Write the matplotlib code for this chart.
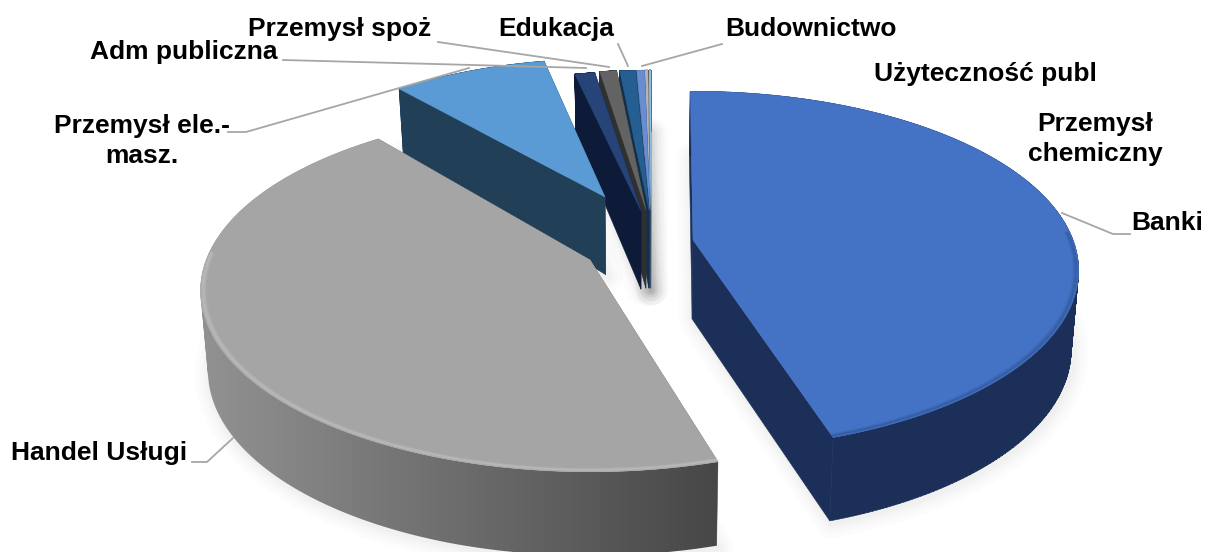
import numpy as np
import matplotlib
matplotlib.use("Agg")
import matplotlib.pyplot as plt
from matplotlib.patches import Polygon, PathPatch
from matplotlib.path import Path
from matplotlib.colors import to_rgb, LinearSegmentedColormap

# ---- data (percent share, clockwise from the top) ----
categories = ["Banki", "Handel Usługi", "Przemysł ele.-masz.", "Adm publiczna", "Przemysł spoż",
              "Edukacja", "Budownictwo", "Użyteczność publ", "Przemysł chemiczny"]
values = [44.89, 43.51, 8.15, 1.05, 0.88, 0.83, 0.41, 0.17, 0.11]

# ---- styling / placement ----
top_colors = ["#4472C4", "#A5A5A5", "#5B9BD5", "#264478", "#636363", "#255E91", "#698ED0", "#B5B5B5", "#8CBFE6"]
side_colors = ["#1B2F58", "#7A7A7A", "#223F58", "#0D1B38", "#303030", "#12304C", "#2A3F70", "#555555", "#40607A"]
apex = [(693, 240), (590, 260), (605, 197), (641, 211), (646, 210), (649, 210), (650, 210), (650, 210), (651, 210)]
scale = [1, 1.01, .93, .94, .94, .94, .94, .94, .94]
rotation = [0, 1.8, -0.6, -1.5, -1.5, -1.5, -1.5, -1.5, -1.5]
DEG_PER_UNIT = 3.62
START = -0.5
A, B, K = 380.0, 174.0, 0.17      # projection of the disc on screen


def project(theta, r, i):
    t = np.radians(theta)
    x, y = r * np.sin(t), r * np.cos(t)
    w = 1 + K * y
    return apex[i][0] + scale[i] * A * x / w, apex[i][1] - scale[i] * B * y / w


def lower(px, py):
    d = np.interp(py, [60, 200, 460], [60, 78, 84])
    return px + (640 - px) * 0.017, py + d


def blend(c1, c2, f):
    a, b = np.array(to_rgb(c1)), np.array(to_rgb(c2))
    return tuple(a + (b - a) * f)


def wall_path(tx, ty, lx, ly):
    """Outer wall as one compound path of equally oriented quads."""
    verts, codes = [], []
    for j in range(len(tx) - 1):
        q = np.array([(tx[j], ty[j]), (tx[j + 1], ty[j + 1]), (lx[j + 1], ly[j + 1]), (lx[j], ly[j])])
        x, y = q[:, 0], q[:, 1]
        if np.sum(x * np.roll(y, -1) - np.roll(x, -1) * y) < 0:
            q = q[::-1]
        verts += [*q, q[0]]
        codes += [Path.MOVETO, Path.LINETO, Path.LINETO, Path.LINETO, Path.CLOSEPOLY]
    return Path(verts, codes)


W, H = 1209, 552
fig = plt.figure(figsize=(W / 100, H / 100), dpi=100)
ax = fig.add_axes([0, 0, 1, 1])

edges = np.concatenate([[0], np.cumsum(values)]) * DEG_PER_UNIT + START
spans = [(edges[i] + rotation[i], edges[i + 1] + rotation[i]) for i in range(len(values))]

# soft shadows
for i, (t0, t1) in enumerate(spans):
    th = np.linspace(t0, t1, 120)
    tx, ty = project(th, 1, i)
    ax0, ay0 = apex[i]
    lx, ly = lower(np.r_[ax0, tx], np.r_[ay0, ty])
    for lw in (22, 16, 11, 7, 4):
        ax.add_patch(Polygon(np.c_[lx + 2, ly + 2], closed=True, fc="none", ec="#000000",
                             lw=lw, alpha=0.012, joinstyle="round", zorder=1))

grey_wall = LinearSegmentedColormap.from_list("wall", ["#929292", "#474747"])

# the narrow slices from right to left, then the far slice, the two big ones last
order = [8, 7, 6, 5, 4, 3, 2, 1, 0]
z = 2
for i in order:
    t0, t1 = spans[i]
    th = np.linspace(t0, t1, 240)
    tx, ty = project(th, 1, i)
    lx, ly = lower(tx, ty)
    ax0, ay0 = apex[i]
    bx0, by0 = lower(np.array(ax0, float), np.array(ay0, float))
    side = side_colors[i]
    # radial walls
    for j in (0, -1):
        ax.add_patch(Polygon([(ax0, ay0), (tx[j], ty[j]), (lx[j], ly[j]), (bx0, by0)],
                             closed=True, fc=side, ec=side, lw=0.4, zorder=z))
    # outer wall
    path = wall_path(tx, ty, lx, ly)
    if i == 1:
        patch = PathPatch(path, fc="none", ec="none", zorder=z)
        ax.add_patch(patch)
        im = ax.imshow(np.linspace(0, 1, 256)[None, :], cmap=grey_wall, aspect="auto",
                       extent=(200, 718, H, 0), zorder=z, interpolation="bilinear")
        im.set_clip_path(patch)
    else:
        ax.add_patch(PathPatch(path, fc=side, ec=side, lw=0.4, zorder=z))
    z += 1
    # top face
    ax.add_patch(Polygon(np.r_[[(ax0, ay0)], np.c_[tx, ty]], closed=True,
                         fc=top_colors[i], ec=top_colors[i], lw=0.3, zorder=z))
    z += 1
    # bevel along the front of the rim of the large slices
    if i in (0, 1):
        front = th[np.cos(np.radians(th)) < 0.05]
        hi = "#BDBDBD" if i == 1 else "#32599E"
        for r, f in zip(np.linspace(0.986, 0.999, 6), [.15, .4, .7, .9, .7, .3]):
            bx, by = project(front, r, i)
            ax.plot(bx, by, color=blend(top_colors[i], hi, f), lw=0.8, zorder=z, solid_capstyle="butt")
        z += 1

# leader lines
leaders = [
    [(1130, 234), (1113, 234), (1062, 213)],
    [(192, 462), (207, 462), (233, 438)],
    [(228, 132), (246, 132), (469, 68)],
    [(283, 60), (586, 68)],
    [(438, 42), (609, 67)],
    [(618, 44), (628, 66)],
    [(722, 44), (642, 66)],
]
for pts in leaders:
    xs, ys = zip(*pts)
    ax.plot(xs, ys, color="#A6A6A6", lw=1.3, zorder=60)

# labels
labels = [
    ("Przemysł spoż", 340, 29), ("Edukacja", 556, 29), ("Budownictwo", 811, 29),
    ("Adm publiczna", 184, 52), ("Użyteczność publ", 985, 74),
    ("Przemysł\nchemiczny", 1095, 139), ("Banki", 1167, 223),
    ("Przemysł ele.-\nmasz.", 142, 141), ("Handel Usługi", 99, 453),
]
for s, x, y in labels:
    ax.text(x, y, s, ha="center", va="center", fontsize=19, fontweight="bold",
            family="Liberation Sans", color="black", linespacing=1.33, zorder=70)

ax.set_xlim(0, W)
ax.set_ylim(H, 0)
ax.axis("off")
fig.savefig("out.png", dpi=100, facecolor="white")
